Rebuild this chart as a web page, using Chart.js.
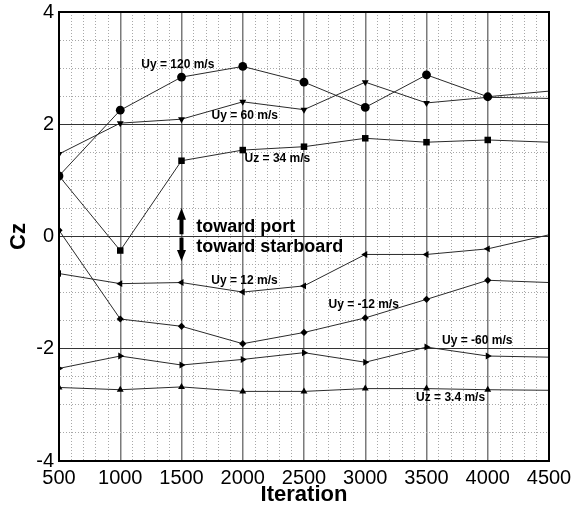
<!DOCTYPE html>
<html>
<head>
<meta charset="utf-8">
<script src="https://cdn.jsdelivr.net/npm/chart.js@4/dist/chart.umd.min.js"></script>
<style>
  html, body { margin: 0; padding: 0; background: #fff; }
  #wrap { width: 573px; height: 508px; position: relative; }
</style>
</head>
<body>
<div id="wrap"><canvas id="c" width="573" height="508"></canvas></div>
<script>
// ---- data ----
const iterations = [500, 1000, 1500, 2000, 2500, 3000, 3500, 4000, 4500];
const uy120   = [1.08, 2.25, 2.84, 3.03, 2.75, 2.30, 2.88, 2.49, 2.59];
const uy60    = [1.47, 2.02, 2.09, 2.40, 2.26, 2.75, 2.38, 2.48, 2.46];
const uz34    = [1.08, -0.25, 1.35, 1.54, 1.60, 1.75, 1.68, 1.72, 1.68];
const uy12    = [-0.66, -0.84, -0.82, -0.99, -0.88, -0.32, -0.32, -0.22, 0.03];
const uyNeg12 = [0.11, -1.47, -1.60, -1.91, -1.71, -1.45, -1.12, -0.78, -0.82];
const uyNeg60 = [-2.35, -2.13, -2.29, -2.19, -2.07, -2.24, -1.97, -2.13, -2.15];
const uz3_4   = [-2.69, -2.73, -2.68, -2.76, -2.76, -2.71, -2.71, -2.73, -2.74];
const seriesLabels = ['Uy = 120 m/s', 'Uy = 60 m/s', 'Uz = 34 m/s', 'Uy = 12 m/s', 'Uy = -12 m/s', 'Uy = -60 m/s', 'Uz = 3.4 m/s'];
const xTickLabels = [500, 1000, 1500, 2000, 2500, 3000, 3500, 4000, 4500];
const yTickLabels = [4, 2, 0, -2, -4];
const directionLabels = ['toward port', 'toward starboard'];

// ---- styling / layout ----
const FONT = '"Liberation Sans", Arial, Helvetica, sans-serif';
const seriesValues = [uy120, uy60, uz34, uy12, uyNeg12, uyNeg60, uz3_4];
const markerStyles = [
  { style: 'circle',   rot: 0,   r: 4.4 },
  { style: 'triangle', rot: 180, r: 4.0 },
  { style: 'rect',     rot: 0,   r: 4.6 },
  { style: 'triangle', rot: 270, r: 4.0 },
  { style: 'rectRot',  rot: 0,   r: 3.6 },
  { style: 'triangle', rot: 90,  r: 4.0 },
  { style: 'triangle', rot: 0,   r: 4.0 }
];
// label anchor positions (data coords, left-aligned, vertically centred)
const labelPos = [
  [1172, 3.06], [1745, 2.16], [2015, 1.38], [1743, -0.79],
  [2700, -1.22], [3627, -1.86], [3415, -2.87]
];
const directionPos = [[1621, 0.175], [1621, -0.18]];

const datasets = seriesValues.map((vals, i) => ({
  label: seriesLabels[i],
  data: iterations.map((x, j) => ({ x: x, y: vals[j] })),
  borderColor: '#2a2a2a',
  borderWidth: 1,
  backgroundColor: '#000',
  pointBackgroundColor: '#000',
  pointBorderWidth: 0,
  pointStyle: markerStyles[i].style,
  pointRotation: markerStyles[i].rot,
  pointRadius: (ctx) => ctx.dataIndex === iterations.length - 1 ? 0 : markerStyles[i].r,
  tension: 0,
  fill: false
}));

const annotPlugin = {
  id: 'annot',
  afterDatasetsDraw(chart) {
    const { ctx, scales: { x, y } } = chart;
    ctx.save();
    ctx.fillStyle = '#000';
    ctx.textAlign = 'left';
    ctx.textBaseline = 'middle';
    ctx.font = 'bold 12px ' + FONT;
    seriesLabels.forEach((t, i) => {
      ctx.fillText(t, x.getPixelForValue(labelPos[i][0]), y.getPixelForValue(labelPos[i][1]));
    });
    ctx.font = 'bold 18px ' + FONT;
    directionLabels.forEach((t, i) => {
      ctx.fillText(t, x.getPixelForValue(directionPos[i][0]), y.getPixelForValue(directionPos[i][1]));
    });
    // double arrow at x = 1500
    const ax = x.getPixelForValue(1500);
    const upTip = y.getPixelForValue(0.51), upBase = y.getPixelForValue(0.30), upEnd = y.getPixelForValue(0.04);
    const dnStart = y.getPixelForValue(-0.02), dnBase = y.getPixelForValue(-0.24), dnTip = y.getPixelForValue(-0.44);
    ctx.fillStyle = '#000';
    ctx.beginPath();
    ctx.moveTo(ax, upTip); ctx.lineTo(ax + 4.5, upBase); ctx.lineTo(ax - 4.5, upBase); ctx.closePath(); ctx.fill();
    ctx.fillRect(ax - 2, upBase - 1, 4, upEnd - upBase + 1);
    ctx.beginPath();
    ctx.moveTo(ax, dnTip); ctx.lineTo(ax + 4.5, dnBase); ctx.lineTo(ax - 4.5, dnBase); ctx.closePath(); ctx.fill();
    ctx.fillRect(ax - 2, dnStart, 4, dnBase - dnStart + 1);
    ctx.restore();
  },
  afterDraw(chart) {
    const { ctx, chartArea: a } = chart;
    ctx.save();
    ctx.strokeStyle = '#000';
    ctx.lineWidth = 2;
    ctx.strokeRect(a.left, a.top, a.right - a.left, a.bottom - a.top);
    ctx.restore();
  }
};

new Chart(document.getElementById('c'), {
  type: 'line',
  data: { datasets: datasets },
  options: {
    responsive: false,
    animation: false,
    events: [],
    layout: { padding: { left: 0, right: 24, top: 12, bottom: 0 } },
    plugins: { legend: { display: false }, tooltip: { enabled: false } },
    scales: {
      x: {
        type: 'linear',
        min: 500, max: 4500,
        afterFit: (s) => { s.height = 47; s.paddingLeft = 0; s.paddingRight = 0; },
        ticks: {
          stepSize: 100, autoSkip: false, maxRotation: 0, padding: 5,
          color: '#000',
          font: { family: FONT, size: 20 },
          callback: (v) => xTickLabels.includes(v) ? String(v) : ''
        },
        grid: {
          drawTicks: false,
          color: (c) => (c.tick && c.tick.value % 500 === 0) ? '#7a7a7a' : '#a8a8a8',
          lineWidth: (c) => (c.tick && c.tick.value % 500 === 0) ? 1.5 : 1
        },
        border: {
          display: true, color: '#000', width: 2,
          dash: (c) => (c.tick && c.tick.value % 500 === 0) ? [] : [1, 2]
        },
        title: {
          display: true, text: 'Iteration', color: '#000',
          font: { family: FONT, size: 22, weight: 'bold' },
          padding: { top: 0, bottom: 0 }
        }
      },
      y: {
        type: 'linear',
        min: -4, max: 4,
        afterFit: (s) => { s.width = 59; s.paddingTop = 0; s.paddingBottom = 0; },
        ticks: {
          stepSize: 0.5, autoSkip: false, padding: 5,
          color: '#000',
          font: { family: FONT, size: 20 },
          callback: (v) => yTickLabels.includes(v) ? String(v) : ''
        },
        grid: {
          drawTicks: false,
          color: (c) => (c.tick && c.tick.value % 2 === 0) ? '#333' : '#a8a8a8',
          lineWidth: 1
        },
        border: {
          display: true, color: '#000', width: 2,
          dash: (c) => (c.tick && c.tick.value % 2 === 0) ? [] : [1, 2]
        },
        title: {
          display: true, text: 'Cz', color: '#000',
          font: { family: FONT, size: 22, weight: 'bold' },
          padding: { top: 6, bottom: 0 }
        }
      }
    }
  },
  plugins: [annotPlugin]
});
</script>
</body>
</html>
